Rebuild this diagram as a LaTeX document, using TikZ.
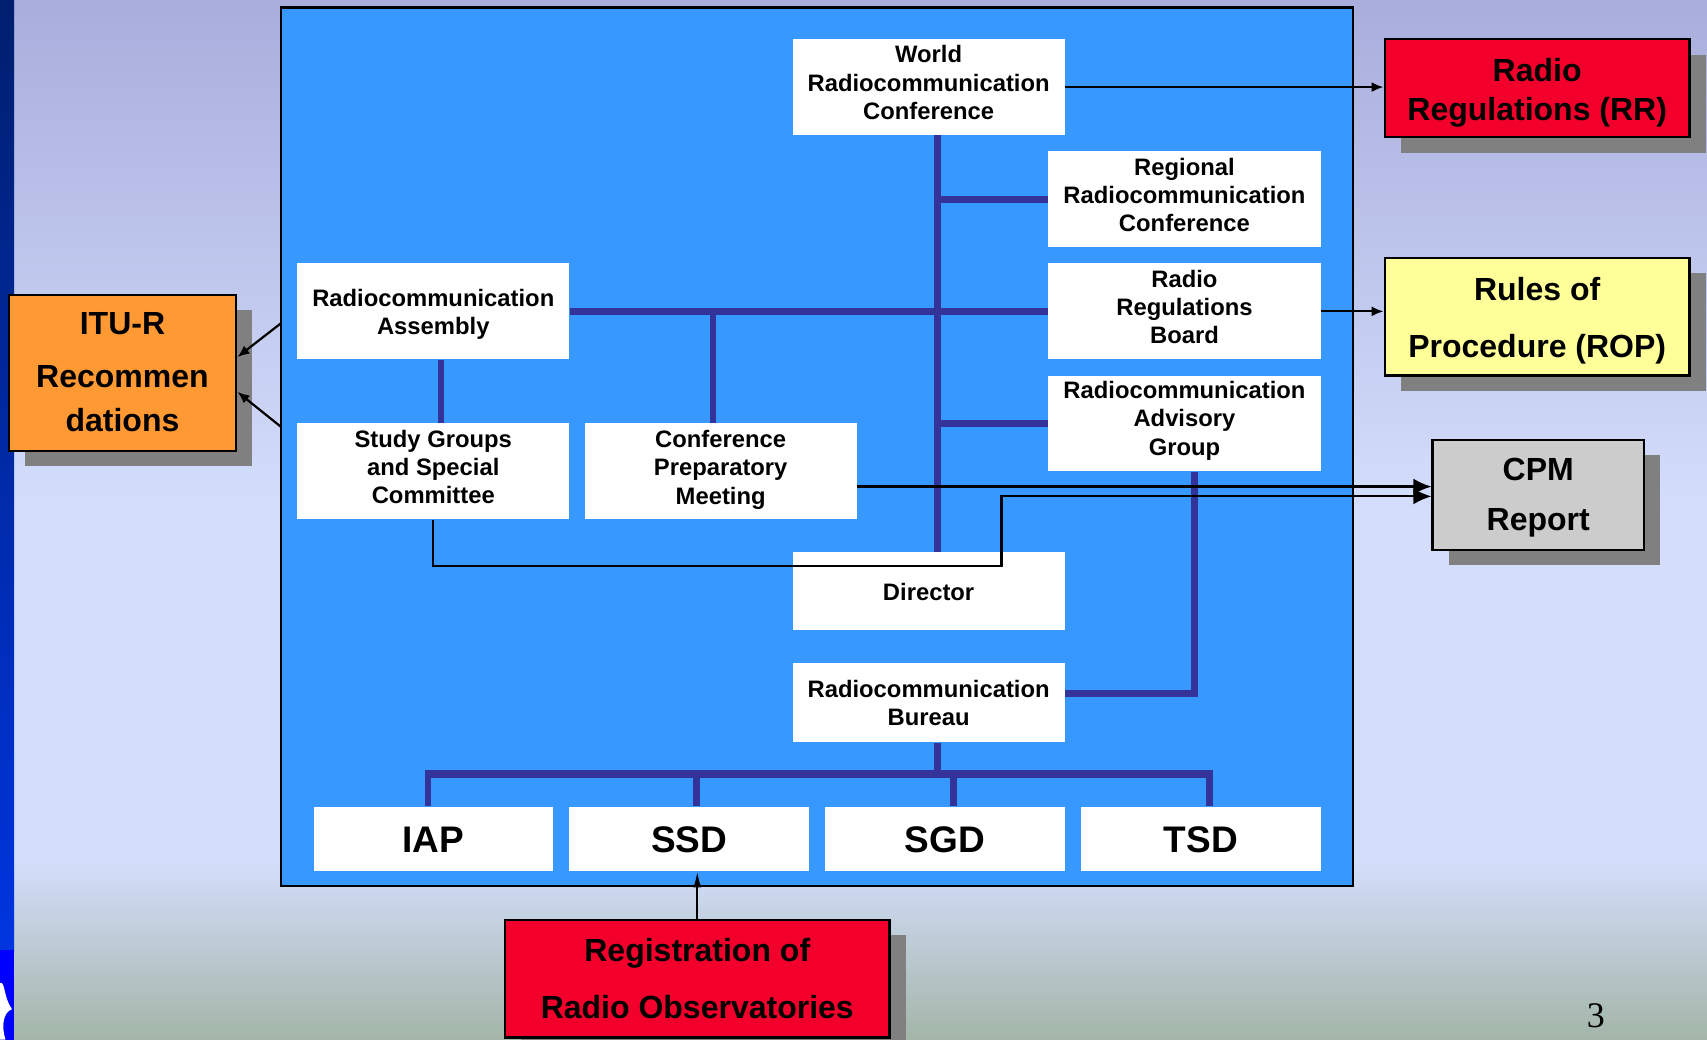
\documentclass[tikz,border=0pt]{standalone}
\usepackage{fontspec}
\setmainfont{Liberation Sans}
\newfontfamily\pagenumfont{Liberation Serif}
\usetikzlibrary{arrows.meta,shadows}
\definecolor{mainblue}{HTML}{3799FF}
\definecolor{connblue}{HTML}{333399}
\definecolor{bgtop}{HTML}{A9ADDC}
\definecolor{bgmid}{HTML}{D4DEFC}
\definecolor{bgbot}{HTML}{A3B6A8}
\definecolor{rrred}{HTML}{F2002B}
\definecolor{ropyellow}{HTML}{FFFF99}
\definecolor{cpmgrey}{HTML}{CCCCCC}
\definecolor{ituorange}{HTML}{FF9933}
\definecolor{shadowgrey}{HTML}{808080}
\definecolor{stripTop}{HTML}{001F6E}
\definecolor{stripBot}{HTML}{0035E0}
\definecolor{logoblue}{HTML}{0000FF}
\begin{document}
\begin{tikzpicture}[x=0.5443pt,y=-0.5443pt,
  sz/.style 2 args={minimum width={#1*0.5443pt},minimum height={#2*0.5443pt}},
  lab/.style n args={3}{label={[#1, align=center, inner sep=0pt, yshift={#2*0.5443pt}]center:{#3}}},
  wfont/.style={font=\bfseries\fontsize{11.9}{14.15}\selectfont},
  tfont/.style={font=\bfseries\fontsize{18.5}{22}\selectfont},
  ofont/.style={font=\bfseries\fontsize{16}{19.6}\selectfont},
  ofontb/.style={font=\bfseries\fontsize{16}{28.8}\selectfont},
  ofontc/.style={font=\bfseries\fontsize{16}{25}\selectfont},
  ofontd/.style={font=\bfseries\fontsize{16}{21.8}\selectfont},
  wbox/.style={fill=white, inner sep=0pt},
  obox/.style={draw=black, line width=1.2pt, inner sep=0pt,
    drop shadow={shadow xshift=8.1pt, shadow yshift=-7.7pt, fill=shadowgrey, opacity=1}},
  conn/.style={draw=connblue, line width=3.3pt, line join=miter},
  arr/.style={draw=black, line width=1.1pt, -{Latex[length=6pt,width=5pt]}},
  bigarr/.style={draw=black, line width=1.1pt, -{Latex[length=9pt,width=8pt]}},
  blk/.style={draw=black, line width=1.1pt}
]
\useasboundingbox (0,0) rectangle (1568,955);
% background
\shade[top color=bgtop, bottom color=bgmid] (0,0) rectangle (1568,472);
\fill[bgmid] (0,470) rectangle (1568,792);
\shade[top color=bgmid, bottom color=bgbot] (0,790) rectangle (1568,955);
% left strip
\shade[top color=stripTop, bottom color=stripBot] (0,0) rectangle (13,874);
\fill[logoblue] (0,873) rectangle (13,955);
\fill[white] (0,903) .. controls (5,901) and (3,916) .. (11,927)
  .. controls (3,930) and (1,942) .. (5,955) -- (0,955) -- cycle;

% main box
\node[draw=black, line width=1.2pt, fill=mainblue, inner sep=0pt, sz={985}{807}] (main) at (750.5,410.5) {};

% coordinates for connector x positions
\coordinate (sp) at (861,0);
\coordinate (cx) at (655,0);
\coordinate (ax) at (405,0);
\coordinate (rbc) at (1097,637);
\coordinate (bar) at (0,711);
\coordinate (d1) at (393,0);
\coordinate (d2) at (640,0);
\coordinate (d3) at (876,0);
\coordinate (d4) at (1111,0);

% white boxes
\node[wbox, sz={250}{88}, lab={wfont}{4}{World\\Radiocommunication\\Conference}] (wrc) at (853,80) {};
\node[wbox, sz={250}{88}, lab={wfont}{4}{Regional\\Radiocommunication\\Conference}] (rrc) at (1088,183) {};
\node[wbox, sz={250}{88}, lab={wfont}{4}{Radio\\Regulations\\Board}] (rrb) at (1088,286) {};
\node[wbox, sz={250}{88}, lab={wfont}{2.5}{Radiocommunication\\Advisory\\Group}] (rag) at (1088,389) {};
\node[wbox, sz={250}{88}, lab={wfont}{-2.5}{Radiocommunication\\Assembly}] (ra) at (398,286) {};
\node[wbox, sz={250}{88}, lab={wfont}{4}{Study Groups\\and Special\\Committee}] (sg) at (398,433) {};
\node[wbox, sz={250}{88}, lab={wfont}{1.5}{Conference\\Preparatory\\Meeting}] (cpm) at (662,433) {};
\node[wbox, sz={250}{72}, lab={wfont}{-1}{Director}] (dir) at (853,543) {};
\node[wbox, sz={250}{73}, lab={wfont}{-0.5}{Radiocommunication\\Bureau}] (rb) at (853,645.5) {};
\node[wbox, sz={220}{59}, lab={tfont}{-0.5}{IAP}] (iap) at (398,770.5) {};
\node[wbox, sz={220}{59}, lab={tfont}{-0.5}{SSD}] (ssd) at (633,770.5) {};
\node[wbox, sz={220}{59}, lab={tfont}{-0.5}{SGD}] (sgd) at (868,770.5) {};
\node[wbox, sz={220}{59}, lab={tfont}{-0.5}{TSD}] (tsd) at (1103,770.5) {};

% blue connectors
\draw[conn] (wrc.south -| sp) -- (dir.north -| sp);
\draw[conn] (sp |- rrc.west) -- (rrc.west);
\draw[conn] (ra.east) -- (rrb.west);
\draw[conn] (sp |- rag.west) -- (rag.west);
\draw[conn] (cpm.north -| cx) -- (ra.east -| cx);
\draw[conn] (ra.south -| ax) -- (sg.north -| ax);
\draw[conn] (rag.south -| rbc) -- (rbc) -- (rbc -| rb.east);
\draw[conn] (rb.south -| sp) -- (bar -| sp);
\draw[conn, line width=3.8pt] ([xshift=-1.65pt]bar -| d1) -- ([xshift=1.65pt]bar -| d4);
\draw[conn] (bar -| d1) -- (iap.north -| d1);
\draw[conn] (bar -| d2) -- (ssd.north -| d2);
\draw[conn] (bar -| d3) -- (sgd.north -| d3);
\draw[conn] (bar -| d4) -- (tsd.north -| d4);

% outside boxes
\node[obox, fill=rrred, sz={280}{90}, lab={ofont}{-4}{Radio\\Regulations (RR)}] (rr) at (1412,81) {};
\node[obox, fill=ropyellow, sz={280}{108}, lab={ofontb}{-3.5}{Rules of\\Procedure (ROP)}] (rop) at (1412,291) {};
\node[obox, fill=cpmgrey, sz={194}{101}, lab={ofontc}{-3}{CPM\\Report}] (cpmr) at (1413,454.5) {};
\node[obox, fill=ituorange, sz={209}{143}, lab={ofontd}{1}{ITU-R\\[4.9pt]Recommen\\dations}] (itu) at (112.5,342.5) {};
\node[obox, fill=rrred, sz={353}{108}, lab={ofontb}{0}{Registration of\\Radio Observatories}] (reg) at (640.5,899) {};

% black arrows
\coordinate (m1) at (258,297);
\coordinate (m2) at (258,392);
\coordinate (sgturn) at (920,520);
\draw[arr] (wrc.east) -- (wrc.east -| rr.west);
\draw[arr] (rrb.east) -- (rrb.east -| rop.west);
\draw[bigarr] ([yshift=-7.6pt]cpm.east) -- ([yshift=-7.6pt]cpm.east -| cpmr.west);
\draw[bigarr] (sg.south) |- (sgturn) |- ([yshift=-0.8pt]cpmr.west);
\draw[arr] (m1) -- ([yshift=7.9pt]itu.east);
\draw[arr] (m2) -- ([yshift=-9.5pt]itu.east);
\draw[blk, -{Latex[length=8pt,width=4pt]}] (reg.north) -- (reg.north |- ssd.south);

% page number
\node[font=\pagenumfont\fontsize{18}{20}\selectfont, inner sep=0pt] (pnum) at (1466,933) {3};
\end{tikzpicture}
\end{document}
